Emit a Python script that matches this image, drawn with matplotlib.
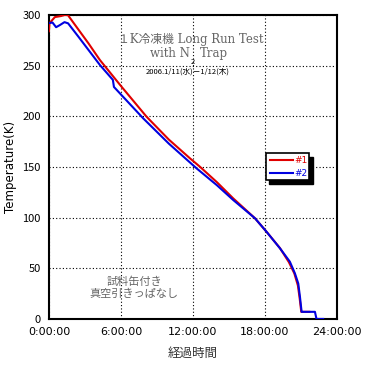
import matplotlib
matplotlib.use("Agg")
import matplotlib.pyplot as plt
from matplotlib.patches import Rectangle

plt.rcParams['font.family'] = ['Noto Sans CJK JP', 'DejaVu Sans']

# elapsed time (h) and temperature (K)
t1 = [0.0, 0.05, 0.5, 1.0, 1.3, 1.58, 2.5, 3.3, 4.25, 6.0, 8.14, 10.0, 11.75,
      12.58, 14.0, 15.36, 17.17, 18.14, 19.25, 20.0, 20.45, 20.75, 20.9, 21.03, 21.7]
T1 = [284, 292, 298, 299, 300, 300, 285, 272, 255.6, 230, 199.6, 177, 158.6,
      150.3, 135, 119, 99.4, 86, 70, 56, 45, 33, 20, 7, 7]

t2 = [0.0, 0.3, 0.6, 0.9, 1.3, 1.6, 2.5, 3.3, 4.25, 5.33, 5.42, 7.86, 10.0, 12.3,
      14.0, 15.36, 17.17, 18.14, 19.25, 20.08, 20.5, 20.78, 20.92, 21.06,
      22.17, 22.3, 22.86]
T2 = [292, 292.6, 288, 290, 293, 291.8, 278, 265.5, 250.7, 236, 229, 198, 173, 148.7,
      132, 117.4, 99.4, 86, 69.8, 56.5, 45, 35, 22, 7, 7, 0, 0]

xticks = [0, 6, 12, 18, 24]
xticklabels = ["0:00:00", "6:00:00", "12:00:00", "18:00:00", "24:00:00"]
yticks = [0, 50, 100, 150, 200, 250, 300]

fig = plt.figure(figsize=(3.65, 3.67), dpi=100)
ax = fig.add_axes([0.134, 0.131, 0.789, 0.828])

ax.plot(t1, T1, color='#e00000', lw=1.5, zorder=3)
ax.plot(t2, T2, color='#0000e0', lw=1.5, zorder=4)

ax.set_xlim(0, 24)
ax.set_ylim(0, 300)
ax.set_xticks(xticks)
ax.set_xticklabels(xticklabels, family='DejaVu Sans')
ax.set_yticks(yticks)
ax.tick_params(length=0, labelsize=8, pad=6)
ax.grid(True, color='black', linestyle=(0, (1, 2)), lw=0.8)
for s in ax.spines.values():
    s.set_linewidth(1.5)

ax.set_ylabel("Temperature(K)", fontsize=8.5, family='DejaVu Sans', labelpad=4)
ax.set_xlabel("経過時間", fontsize=9, color='#333333', labelpad=7)

# legend box with shadow
lx0, lx1, ly0, ly1 = 18.06, 21.67, 137, 163.5
ax.add_patch(Rectangle((lx0 + 0.3, ly0 - 3.5), lx1 - lx0, ly1 - ly0, facecolor='black',
                       edgecolor='black', zorder=5))
ax.add_patch(Rectangle((lx0, ly0), lx1 - lx0, ly1 - ly0, facecolor='white',
                       edgecolor='black', lw=1.2, zorder=6))
ax.plot([lx0 + 0.35, lx0 + 2.3], [156.5, 156.5], color='#e00000', lw=1.5, zorder=7)
ax.plot([lx0 + 0.35, lx0 + 2.3], [144, 144], color='#0000e0', lw=1.5, zorder=7)
ax.text(lx0 + 2.4, 156.5, "#1", color='#e00000', fontsize=6.5, va='center', zorder=7,
        family='DejaVu Sans')
ax.text(lx0 + 2.4, 144, "#2", color='#0000e0', fontsize=6.5, va='center', zorder=7,
        family='DejaVu Sans')

# annotations
serif = ['DejaVu Serif', 'Noto Sans CJK JP']
ax.text(11.8, 276, "１K冷凍機 Long Run Test", fontsize=8.5, color='#666666',
        ha='center', va='center', family=serif)
ax.text(11.75, 262.5, "with N", fontsize=8.5, color='#666666', ha='right', va='center',
        family='DejaVu Serif')
ax.text(11.85, 253.6, "2", fontsize=5.5, color='black', ha='left', va='center')
ax.text(12.55, 262.5, "Trap", fontsize=8.5, color='#666666', ha='left', va='center',
        family='DejaVu Serif')
ax.text(11.6, 244, "2006.1/11(水)－1/12(木)", fontsize=5.5, color='black',
        ha='center', va='center')
ax.text(7.15, 37, "試料缶付き", fontsize=8, color='#666666', ha='center', va='center')
ax.text(7.1, 25, "真空引きっぱなし", fontsize=8, color='#666666', ha='center', va='center')

fig.savefig("out.png", dpi=100)
